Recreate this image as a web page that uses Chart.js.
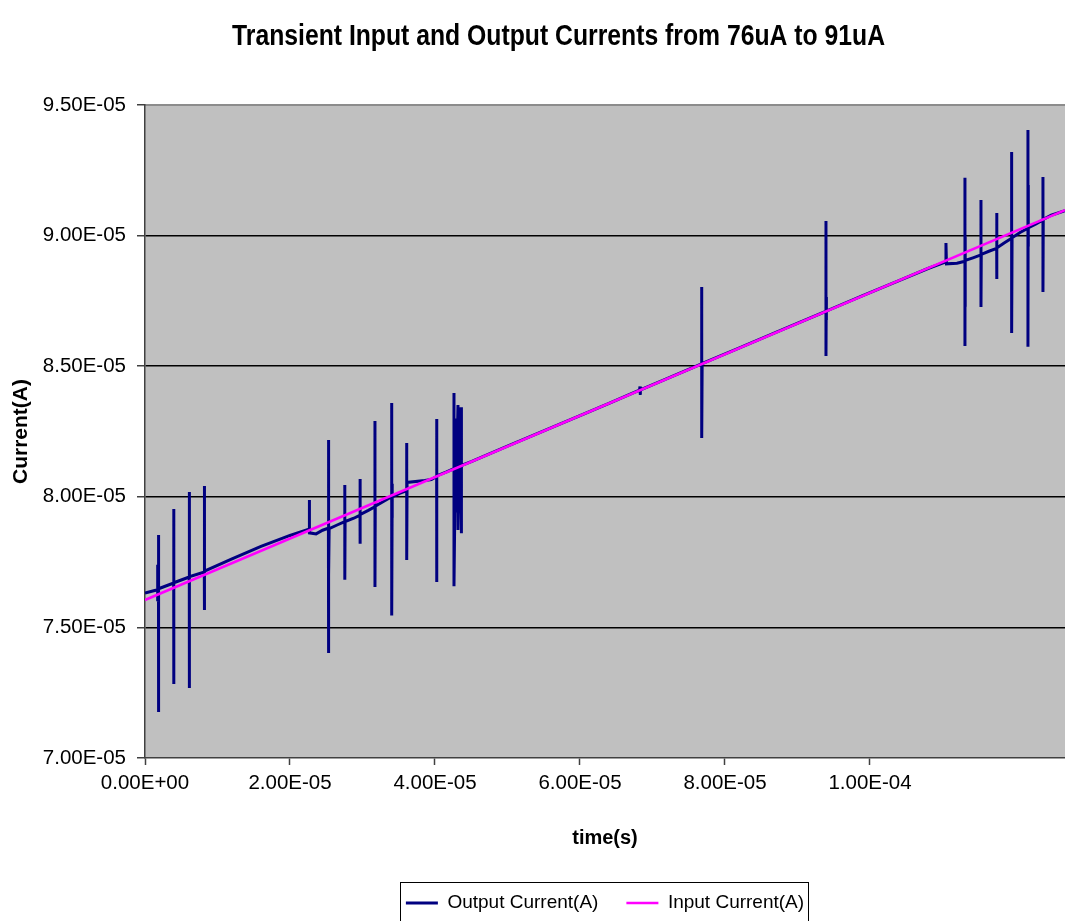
<!DOCTYPE html>
<html>
<head>
<meta charset="utf-8">
<title>Transient Input and Output Currents</title>
<script src="https://cdn.jsdelivr.net/npm/chart.js@4.4.1/dist/chart.umd.min.js"></script>
<style>
  html, body { margin: 0; padding: 0; background: #ffffff; }
  canvas { display: block; }
</style>
</head>
<body>
<canvas id="chart" width="1065" height="921"></canvas>
<script>
// Output current samples: time in microseconds, current in microamps.
// Spikes appear as several samples at (almost) the same instant.
const outputTimeUs = [
  0, 1.2, 1.75, 1.75, 1.75, 1.86, 1.86, 1.86, 1.9,
  3.96, 3.96, 3.96, 4.0,
  6.11, 6.11, 6.11, 6.15,
  8.18, 8.18, 8.18, 8.2, 8.2, 8.25,
  12, 16, 20, 22.4,
  22.66, 22.66, 22.7, 23.6, 24.5,
  25.3, 25.3, 25.3, 25.35, 25.35, 25.4, 26.5,
  27.56, 27.56, 27.56, 27.6, 28.8,
  29.66, 29.66, 29.66, 29.7, 30.8,
  31.72, 31.72, 31.72, 31.76, 33,
  34.03, 34.03, 34.03, 34.1, 34.1, 34.1, 35.2,
  36.1, 36.1, 36.1, 36.15, 38.6, 39.5,
  40.23, 40.23, 40.23, 40.27, 41.6,
  42.62, 42.62, 42.62, 42.8, 42.8, 42.8, 43.0,
  43.17, 43.17, 43.35, 43.35, 43.35, 43.59, 43.59, 43.7,
  45, 50, 55, 60, 64,
  68.2, 68.28, 68.3, 68.35, 72,
  76.79, 76.79, 76.79, 76.85, 82, 88,
  93.93, 93.93, 93.93, 93.97, 93.97, 94.0, 99, 104, 108,
  110.3, 110.48, 110.48, 110.55, 112.0,
  113.1, 113.1, 113.1, 113.12, 113.12, 113.15, 114.2,
  115.31, 115.31, 115.31, 115.35, 116.4,
  117.48, 117.48, 117.48, 117.52, 118.5,
  119.54, 119.54, 119.54, 119.6, 120.7,
  121.79, 121.79, 121.79, 121.82, 121.82, 121.85, 122.9,
  123.86, 123.86, 123.86, 123.9, 125, 126.9
];
const outputUA = [
  76.32, 76.40, 76.44, 77.40, 76.00, 76.47, 78.54, 71.76, 76.48,
  76.70, 79.53, 72.83, 76.71,
  76.93, 80.18, 72.68, 76.94,
  77.12, 80.41, 75.67, 77.50, 76.50, 77.15,
  77.62, 78.10, 78.52, 78.74,
  78.76, 79.88, 78.62, 78.58, 78.72,
  78.80, 82.17, 74.02, 80.60, 77.00, 78.78, 78.92,
  79.05, 80.45, 76.82, 79.05, 79.18,
  79.30, 80.68, 78.20, 79.32, 79.48,
  79.62, 82.90, 76.55, 79.64, 79.84,
  80.00, 83.59, 75.46, 80.50, 79.20, 80.00, 80.14,
  80.24, 82.06, 77.58, 80.55, 80.62, 80.66,
  80.78, 82.98, 76.74, 80.80, 80.95,
  81.08, 83.97, 76.58, 81.10, 83.00, 79.40, 81.12,
  83.51, 78.73, 81.15, 83.20, 79.70, 83.43, 78.60, 81.20,
  81.35, 81.94, 82.52, 83.11, 83.58,
  84.08, 84.22, 83.90, 84.09, 84.52,
  85.09, 88.03, 82.25, 85.10, 85.70, 86.41,
  87.10, 90.56, 85.39, 87.65, 86.77, 87.11, 87.70, 88.28, 88.74,
  88.98, 88.98, 89.72, 88.92, 88.94,
  89.02, 92.21, 85.77, 89.96, 87.28, 89.05, 89.15,
  89.26, 91.36, 87.27, 89.28, 89.40,
  89.51, 90.87, 88.34, 89.53, 89.72,
  89.90, 93.20, 86.27, 89.92, 90.12,
  90.28, 94.04, 85.74, 91.94, 89.58, 90.30, 90.45,
  90.60, 92.24, 87.84, 90.62, 90.78, 90.95
];

// Input current ramp: time in microseconds, current in microamps.
const inputTimeUs = [0, 126.9];
const inputUA = [76.05, 90.97];

// Axis ranges and tick positions (seconds / amperes).
const timeRange = [0, 126.9e-6];
const currentRange = [7.0e-5, 9.5e-5];
const timeTicks = [0, 2e-5, 4e-5, 6e-5, 8e-5, 1e-4];
const currentTicks = [7.0e-5, 7.5e-5, 8.0e-5, 8.5e-5, 9.0e-5, 9.5e-5];

const chartTitle = 'Transient Input and Output Currents from 76uA to 91uA';

const US = 1e-6;
const toPoints = (ts, vs) => ts.map((t, i) => ({ x: t * US, y: vs[i] * US }));

// Excel-style scientific notation, e.g. 9.50E-05
function sci(v) {
  const parts = Number(v).toExponential(2).split('e');
  const e = parseInt(parts[1], 10);
  return parts[0] + 'E' + (e < 0 ? '-' : '+') + String(Math.abs(e)).padStart(2, '0');
}

const FONT = '"Liberation Sans", Arial, sans-serif';

// Grey plotting area with a soft top border
const plotBackground = {
  id: 'plotBackground',
  beforeDraw(chart) {
    const { ctx, chartArea: a } = chart;
    ctx.save();
    ctx.fillStyle = '#c0c0c0';
    ctx.fillRect(a.left, a.top, a.right - a.left, a.bottom - a.top);
    ctx.strokeStyle = '#8c8c8c';
    ctx.lineWidth = 2;
    ctx.beginPath();
    ctx.moveTo(a.left, a.top);
    ctx.lineTo(a.right, a.top);
    ctx.stroke();
    ctx.restore();
  }
};

// Condensed bold heading placed above the plot
const heading = {
  id: 'heading',
  afterDraw(chart, args, opts) {
    const ctx = chart.ctx;
    ctx.save();
    ctx.font = 'bold ' + opts.size + 'px ' + FONT;
    ctx.fillStyle = '#000000';
    ctx.textAlign = 'center';
    ctx.textBaseline = 'alphabetic';
    const w = ctx.measureText(opts.text).width;
    const sx = opts.width / w;
    ctx.translate(opts.x, opts.baseline);
    ctx.scale(sx, 1);
    ctx.fillText(opts.text, 0, 0);
    ctx.restore();
  }
};

// Thin frame around the legend entries
const legendFrame = {
  id: 'legendFrame',
  afterDraw(chart) {
    const boxes = chart.legend && chart.legend.legendHitBoxes;
    if (!boxes || !boxes.length) return;
    const ctx = chart.ctx;
    const left = Math.min(...boxes.map(b => b.left)) - 6;
    const right = Math.max(...boxes.map(b => b.left + b.width)) + 4;
    const mid = boxes[0].top + boxes[0].height / 2;
    const top = mid - 21;
    ctx.save();
    ctx.strokeStyle = '#000000';
    ctx.lineWidth = 1;
    ctx.strokeRect(Math.round(left) + 0.5, Math.round(top) + 0.5,
      Math.round(right - left), chart.height - top + 10);
    ctx.restore();
  }
};

new Chart(document.getElementById('chart'), {
  type: 'scatter',
  data: {
    datasets: [
      {
        label: 'Output Current(A)',
        data: toPoints(outputTimeUs, outputUA),
        showLine: true,
        borderColor: '#000080',
        backgroundColor: '#000080',
        borderWidth: 3,
        pointRadius: 0,
        tension: 0,
        order: 1
      },
      {
        label: 'Input Current(A)',
        data: toPoints(inputTimeUs, inputUA),
        showLine: true,
        borderColor: '#ff00ff',
        backgroundColor: '#ff00ff',
        borderWidth: 2.5,
        pointRadius: 0,
        tension: 0,
        order: 0
      }
    ]
  },
  options: {
    responsive: false,
    animation: false,
    devicePixelRatio: 1,
    layout: { padding: { top: 105, left: 0, right: 0, bottom: 0 } },
    scales: {
      x: {
        type: 'linear',
        min: timeRange[0],
        max: timeRange[1],
        afterBuildTicks: s => { s.ticks = timeTicks.map(v => ({ value: v })); },
        afterFit: s => { s.height = 107.5; },
        grid: { drawOnChartArea: false, drawTicks: true, tickLength: 7, tickColor: '#404040', tickWidth: 1.5 },
        border: { display: true, color: '#404040', width: 1.5 },
        ticks: {
          autoSkip: false, maxRotation: 0, padding: 6, color: '#000000',
          font: { family: FONT, size: 20.5 },
          callback: v => sci(v)
        },
        title: {
          display: true, text: 'time(s)', color: '#000000',
          font: { family: FONT, size: 20, weight: 'bold' },
          padding: { top: 0, bottom: 15.5 }
        }
      },
      y: {
        type: 'linear',
        min: currentRange[0],
        max: currentRange[1],
        afterBuildTicks: s => { s.ticks = currentTicks.map(v => ({ value: v })); },
        afterFit: s => { s.width = 145; },
        grid: {
          color: c => (c.tick && (c.tick.value === currentRange[0] || c.tick.value === currentRange[1]))
            ? 'rgba(0,0,0,0)' : '#000000',
          lineWidth: 1.5,
          drawTicks: true, tickLength: 8, tickColor: '#404040', tickWidth: 1.5
        },
        border: { display: true, color: '#404040', width: 1.5 },
        ticks: {
          padding: 11, color: '#000000',
          font: { family: FONT, size: 20.5 },
          callback: v => sci(v)
        },
        title: {
          display: true, text: 'Current(A)', color: '#000000',
          font: { family: FONT, size: 21, weight: 'bold' },
          padding: { top: 9, bottom: 0 }
        }
      }
    },
    plugins: {
      title: { display: false },
      heading: { text: chartTitle, size: 29, width: 653, x: 558.5, baseline: 45 },
      legend: {
        position: 'bottom',
        fullSize: false,
        maxHeight: 55.5,
        labels: {
          usePointStyle: true,
          pointStyle: 'line',
          pointStyleWidth: 32,
          padding: 28,
          color: '#000000',
          font: { family: FONT, size: 19 },
          sort: (a, b) => a.datasetIndex - b.datasetIndex
        }
      },
      tooltip: { enabled: false }
    }
  },
  plugins: [plotBackground, heading, legendFrame]
});
</script>
</body>
</html>
